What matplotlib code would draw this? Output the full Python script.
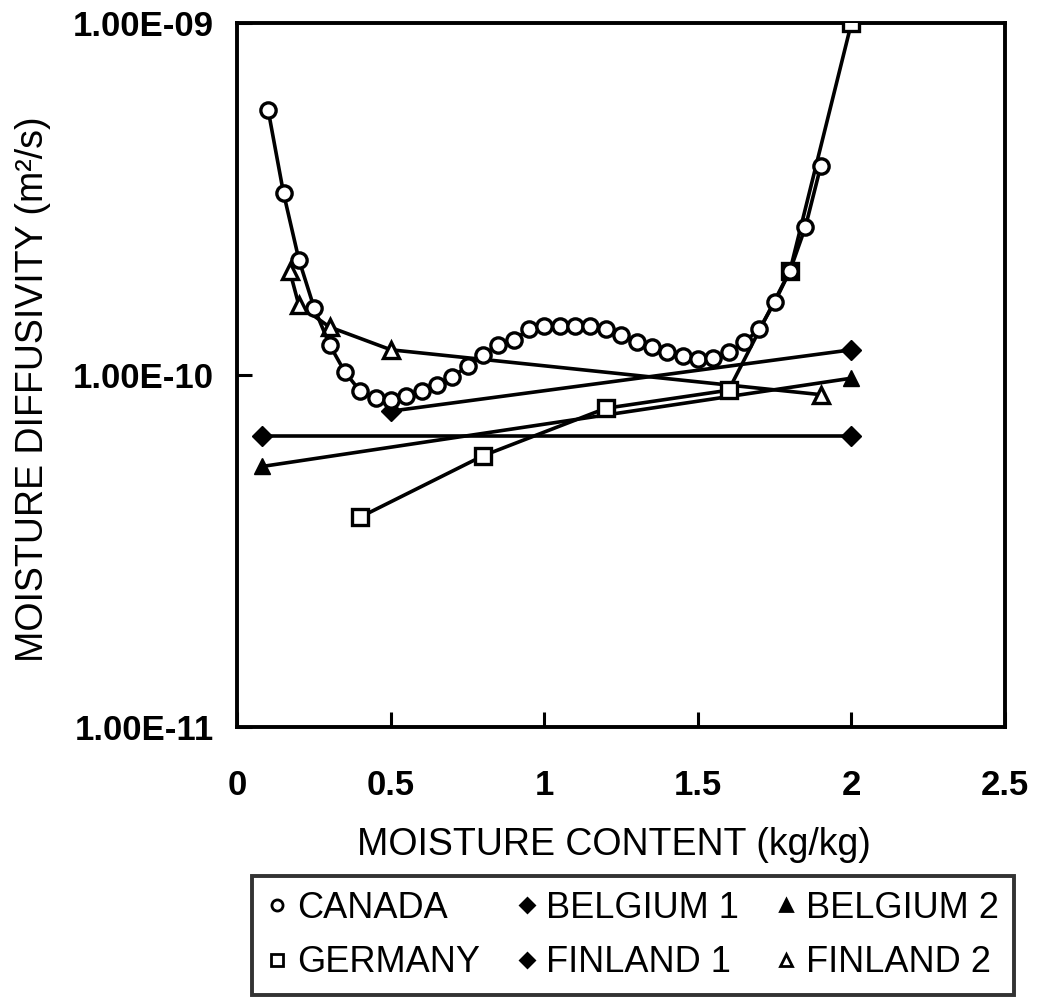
import matplotlib
matplotlib.use("Agg")
from matplotlib import pyplot as plt
from matplotlib.lines import Line2D
from matplotlib.ticker import FixedLocator, FixedFormatter, NullLocator

plt.rcParams['font.family'] = ['Liberation Sans', 'DejaVu Sans']

# values
canada_x = [0.10, 0.15, 0.20, 0.25, 0.30, 0.35, 0.40, 0.45, 0.50, 0.55,
            0.60, 0.65, 0.70, 0.75, 0.80, 0.85, 0.90, 0.95, 1.00, 1.05,
            1.10, 1.15, 1.20, 1.25, 1.30, 1.35, 1.40, 1.45, 1.50, 1.55,
            1.60, 1.65, 1.70, 1.75, 1.80, 1.85, 1.90]
canada_y = [5.66e-10, 3.29e-10, 2.13e-10, 1.55e-10, 1.22e-10, 1.02e-10,
            9.0e-11, 8.6e-11, 8.5e-11, 8.7e-11, 9.0e-11, 9.4e-11, 9.9e-11,
            1.06e-10, 1.14e-10, 1.22e-10, 1.26e-10, 1.35e-10, 1.38e-10,
            1.38e-10, 1.38e-10, 1.38e-10, 1.35e-10, 1.30e-10, 1.24e-10,
            1.20e-10, 1.16e-10, 1.13e-10, 1.11e-10, 1.12e-10, 1.16e-10,
            1.24e-10, 1.35e-10, 1.61e-10, 1.98e-10, 2.63e-10, 3.92e-10]

germany_x = [0.4, 0.8, 1.2, 1.6, 1.8, 2.0]
germany_y = [3.95e-11, 5.9e-11, 8.05e-11, 9.06e-11, 1.98e-10, 1.0e-09]

belgium1_x = [0.5, 2.0]
belgium1_y = [7.9e-11, 1.18e-10]

belgium2_x = [0.08, 2.0]
belgium2_y = [5.5e-11, 9.8e-11]

finland1_x = [0.08, 2.0]
finland1_y = [6.7e-11, 6.7e-11]

finland2_x = [0.17, 0.20, 0.30, 0.50, 1.90]
finland2_y = [1.98e-10, 1.58e-10, 1.37e-10, 1.18e-10, 8.8e-11]

y_ticks = [1e-11, 1e-10, 1e-09]
y_ticklabels = ['1.00E-11', '1.00E-10', '1.00E-09']
x_ticks = [0, 0.5, 1, 1.5, 2, 2.5]
x_ticklabels = ['0', '0.5', '1', '1.5', '2', '2.5']


def main():
    fig = plt.figure(figsize=(10.37, 10.07), dpi=100)
    ax = fig.add_axes([0.229, 0.278, 0.740, 0.699])

    lw = 2.6
    ax.plot(canada_x, canada_y, '-', color='k', lw=lw, marker='o', ms=11,
            mfc='white', mec='k', mew=2.4, zorder=5)
    ax.plot(germany_x, germany_y, '-', color='k', lw=lw, marker='s', ms=11,
            mfc='white', mec='k', mew=2.4, zorder=4)
    ax.plot(belgium1_x, belgium1_y, '-', color='k', lw=lw, marker='D', ms=10,
            mfc='k', mec='k', zorder=3)
    ax.plot(belgium2_x, belgium2_y, '-', color='k', lw=lw, marker='^', ms=12,
            mfc='k', mec='k', zorder=3)
    ax.plot(finland1_x, finland1_y, '-', color='k', lw=lw, marker='D', ms=10,
            mfc='k', mec='k', zorder=3)
    ax.plot(finland2_x, finland2_y, '-', color='k', lw=lw, marker='^', ms=12,
            mfc='white', mec='k', mew=2.4, zorder=3)

    ax.set_yscale('log')
    ax.set_xlim(0, 2.5)
    ax.set_ylim(1e-11, 1e-09)
    ax.yaxis.set_major_locator(FixedLocator(y_ticks))
    ax.yaxis.set_major_formatter(FixedFormatter(y_ticklabels))
    ax.yaxis.set_minor_locator(NullLocator())
    ax.xaxis.set_major_locator(FixedLocator(x_ticks))
    ax.xaxis.set_major_formatter(FixedFormatter(x_ticklabels))

    for s in ax.spines.values():
        s.set_linewidth(2.8)
    ax.tick_params(axis='both', direction='in', length=11, width=2.2,
                   labelsize=25)
    ax.tick_params(axis='y', pad=17)
    ax.tick_params(axis='x', pad=30)
    for lab in ax.get_xticklabels() + ax.get_yticklabels():
        lab.set_fontweight('bold')

    ax.set_xlabel('MOISTURE CONTENT (kg/kg)', fontsize=27)
    ax.set_ylabel('MOISTURE DIFFUSIVITY (m²/s)', fontsize=27)
    ax.xaxis.set_label_coords(0.49, -0.142)
    ax.yaxis.set_label_coords(-0.243, 0.48)

    def h(marker, fill, ms):
        return Line2D([], [], ls='none', color='k', marker=marker, ms=ms,
                      mfc=fill, mec='k', mew=2.0)

    # column-major order so rows read CANADA/BELGIUM 1/BELGIUM 2 ...
    handles = [h('o', 'white', 8), h('s', 'white', 8),
               h('D', 'k', 7), h('D', 'k', 7),
               h('^', 'k', 9), h('^', 'white', 9)]
    labels = ['CANADA', 'GERMANY', 'BELGIUM 1', 'FINLAND 1',
              'BELGIUM 2', 'FINLAND 2']
    leg = fig.legend(handles, labels, loc='center',
                     bbox_to_anchor=(0.61, 0.071), ncol=3, fontsize=26,
                     frameon=True, fancybox=False, handlelength=0.6,
                     handletextpad=0.25, columnspacing=1.0,
                     labelspacing=0.55, borderpad=0.4)
    leg.get_frame().set_edgecolor('k')
    leg.get_frame().set_linewidth(2.8)

    plt.savefig("out.png", dpi=100)


if __name__ == '__main__':
    main()
